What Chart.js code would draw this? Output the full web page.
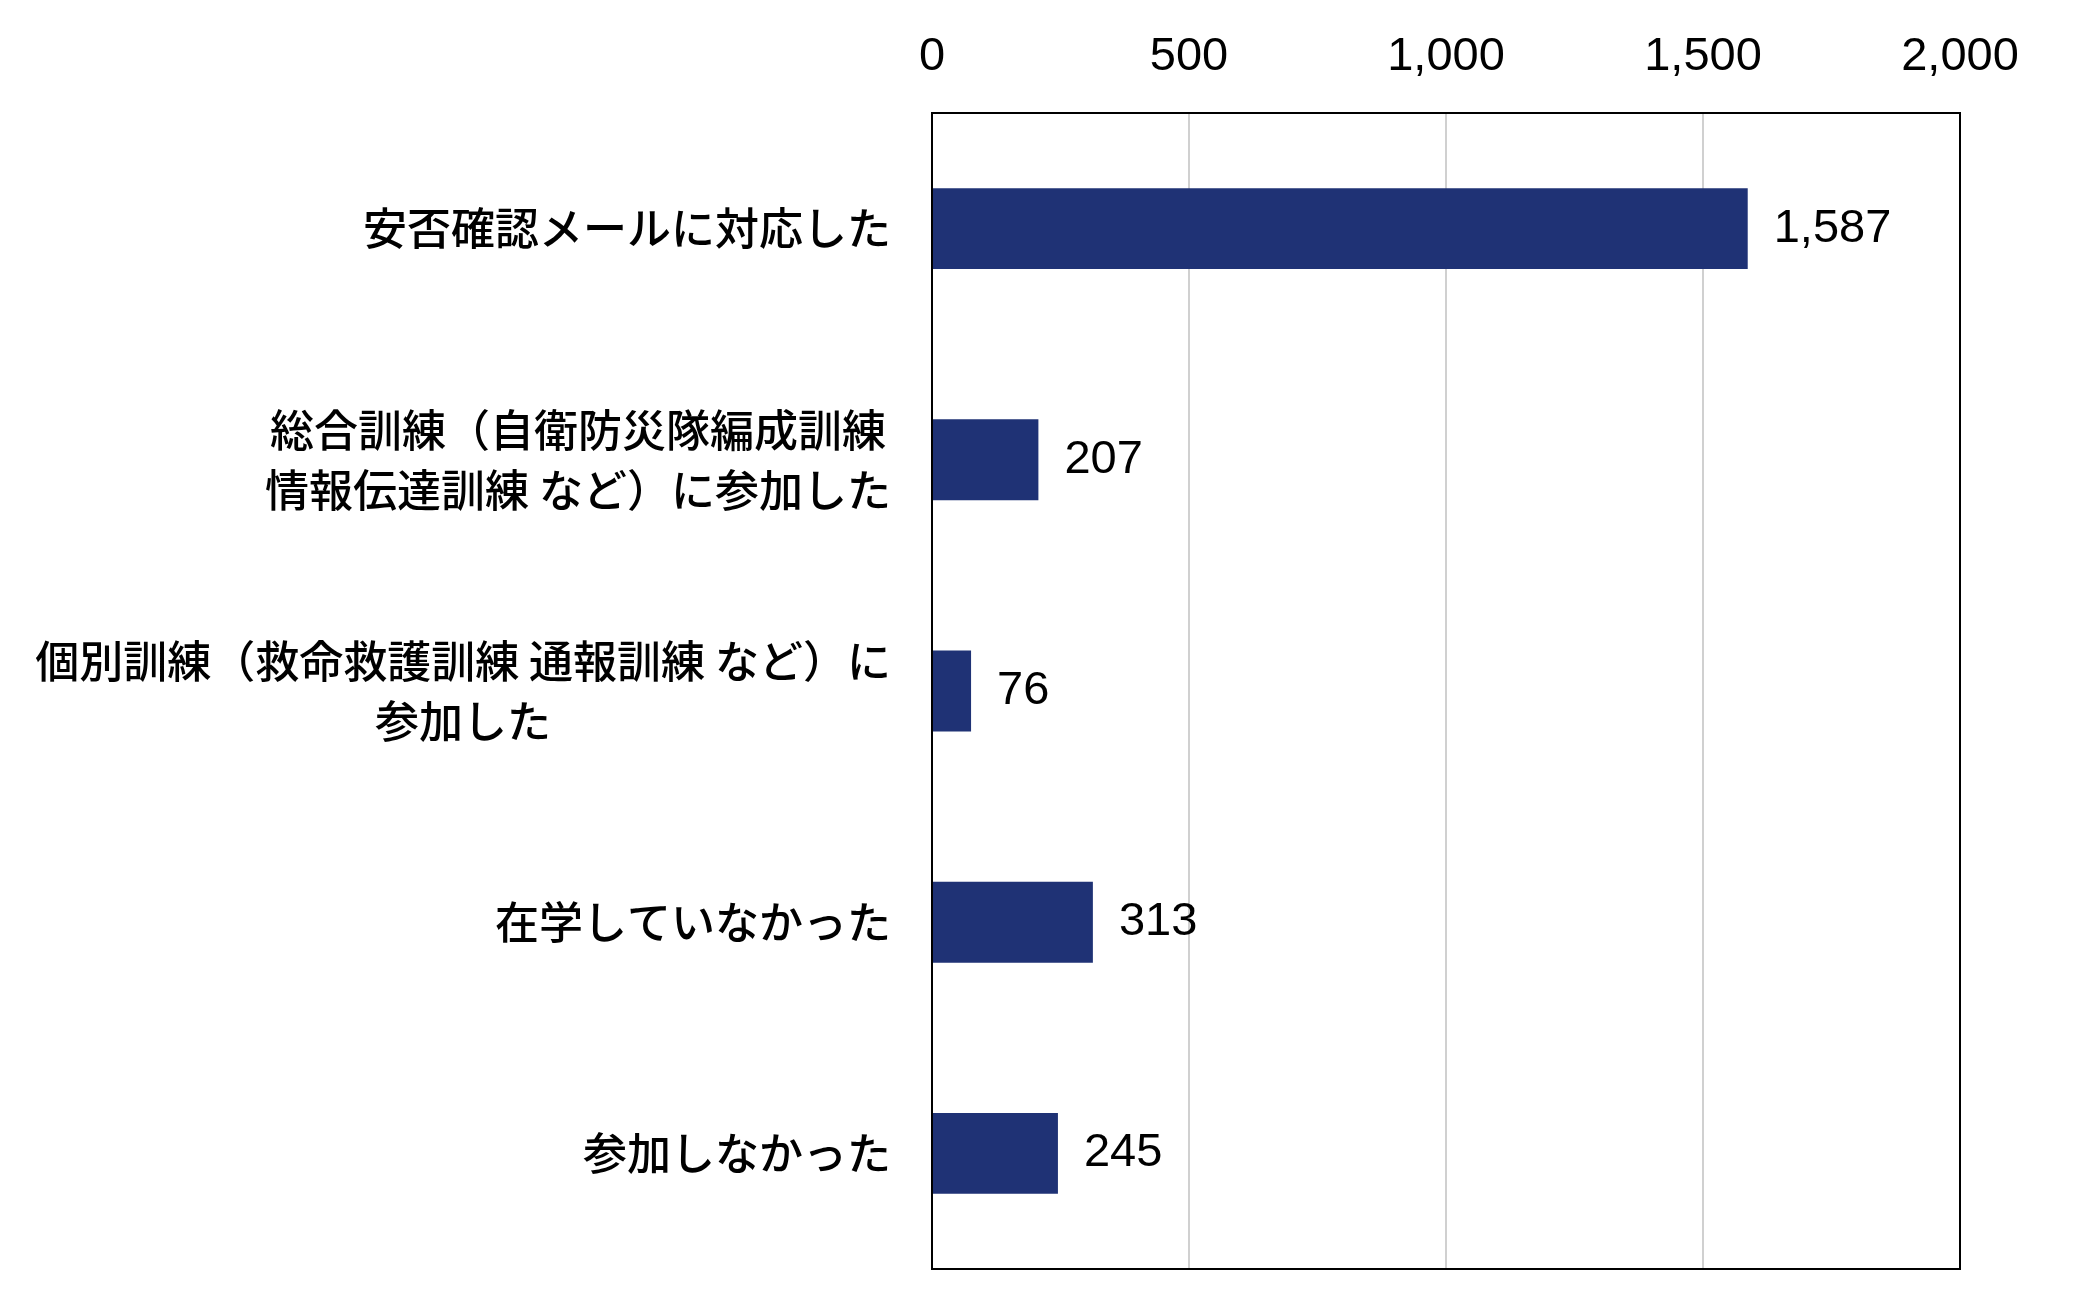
<!DOCTYPE html>
<html><head><meta charset="utf-8">
<script src="https://cdn.jsdelivr.net/npm/chart.js@4/dist/chart.umd.min.js"></script>
<style>html,body{margin:0;padding:0;background:#fff}#w{width:2079px;height:1299px}</style>
</head><body><div id="w"><canvas id="c"></canvas></div>
<script>
const categories = [
  ["安否確認メールに対応した"],
  ["総合訓練（自衛防災隊編成訓練","情報伝達訓練 など）に参加した"],
  ["個別訓練（救命救護訓練 通報訓練 など）に","参加した"],
  ["在学していなかった"],
  ["参加しなかった"]
];
const values = [1587, 207, 76, 313, 245];
const xTicks = [0, 500, 1000, 1500, 2000];
const NUMFONT = "'Liberation Sans', Arial, sans-serif";
const JPFONT = "'Noto Sans CJK JP', sans-serif";

const frame = {
  id: 'frame',
  afterDatasetsDraw(chart) {
    const {ctx, chartArea: a} = chart;
    ctx.save();
    ctx.strokeStyle = '#000'; ctx.lineWidth = 2;
    ctx.strokeRect(a.left, a.top, a.right - a.left, a.bottom - a.top);
    ctx.fillStyle = '#000'; ctx.font = '47px ' + NUMFONT;
    ctx.textBaseline = 'middle'; ctx.textAlign = 'left';
    chart.getDatasetMeta(0).data.forEach((b, i) => {
      ctx.fillText(values[i].toLocaleString('en-US'), b.x + 26, b.y);
    });
    // category labels, block right-aligned, lines centered
    const ys = chart.scales.y;
    ctx.font = '500 44px ' + JPFONT;
    ctx.textAlign = 'center';
    const right = a.left - 41, lh = 60;
    categories.forEach((lines, i) => {
      const y = ys.getPixelForValue(i);
      const w = Math.max(...lines.map(l => ctx.measureText(l).width));
      const cx = right - w / 2;
      lines.forEach((l, j) => ctx.fillText(l, cx, y + (j - (lines.length - 1) / 2) * lh));
    });
    ctx.restore();
  }
};

new Chart(document.getElementById('c'), {
  type: 'bar',
  data: { labels: categories, datasets: [{ data: values, backgroundColor: '#1F3275', barPercentage: 0.35, categoryPercentage: 1 }] },
  options: {
    indexAxis: 'y', responsive: true, maintainAspectRatio: false, animation: false, devicePixelRatio: 1,
    layout: { padding: { left: 0, right: 119, top: 0, bottom: 30 } },
    plugins: { legend: { display: false }, tooltip: { enabled: false } },
    scales: {
      x: {
        position: 'top', min: 0, max: 2000,
        afterFit(s) { s.height = 113; },
        afterBuildTicks(s) { s.ticks = xTicks.map(v => ({ value: v })); },
        ticks: { color: '#000', font: { size: 47, family: NUMFONT }, padding: 28,
                 callback: v => Number(v).toLocaleString('en-US') },
        grid: { color: '#d0d0d0', lineWidth: 2, drawTicks: false },
        border: { display: false }
      },
      y: {
        afterFit(s) { s.width = 932; },
        ticks: { display: false },
        grid: { display: false },
        border: { display: false }
      }
    }
  },
  plugins: [frame]
});
</script></body></html>
